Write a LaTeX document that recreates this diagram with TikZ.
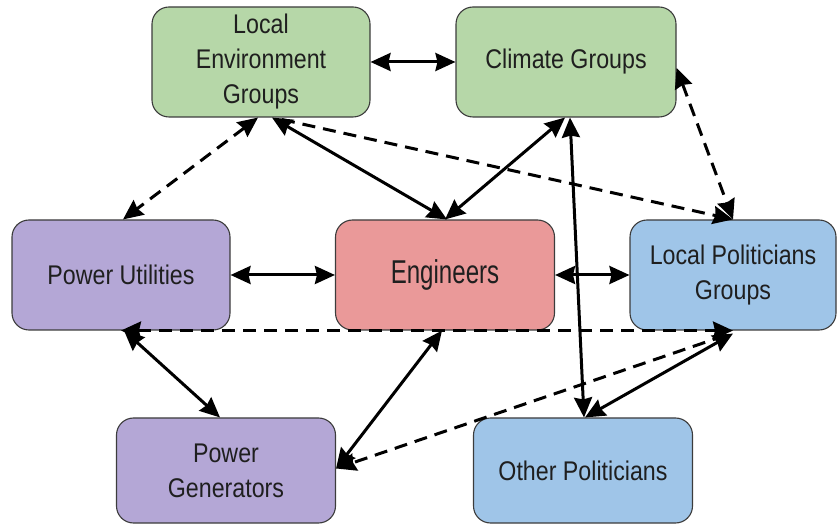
\documentclass[tikz,border=0pt]{standalone}
\usepackage{fontspec}
\setmainfont{Liberation Sans}
\newfontfamily\boxfont[FakeStretch=0.86]{Liberation Sans}
\newfontfamily\engfont[FakeStretch=0.73]{Liberation Sans}
\usetikzlibrary{arrows.meta}
\definecolor{grpfill}{HTML}{B6D7A8}
\definecolor{pwrfill}{HTML}{B4A7D6}
\definecolor{engfill}{HTML}{EA9999}
\definecolor{polfill}{HTML}{9FC5E8}
\definecolor{boxedge}{HTML}{3C3C3C}
\begin{document}
\begin{tikzpicture}[x=1pt,y=-1pt,
  actor/.style={draw=boxedge, line width=1.1pt, rounded corners=17pt,
    minimum width=218pt, minimum height=110pt, align=center, inner sep=0pt,
    font=\boxfont\fontsize{27}{35}\selectfont, text=black!88},
  tip/.tip={Stealth[length=20pt,width=18pt,inset=2pt]},
  link/.style={line width=3pt, draw=black, tip-tip},
  dlink/.style={link, dash pattern=on 13pt off 8pt},
  dlinkone/.style={line width=3pt, draw=black, dash pattern=on 13pt off 8pt, -tip}]
\useasboundingbox (0,0) rectangle (838,526);
% stakeholders
\node[actor, fill=grpfill] (leg) at (261,62) {Local\\Environment\\Groups};
\node[actor, fill=grpfill, minimum width=220pt] (cg) at (566,62) {Climate Groups};
\node[actor, fill=pwrfill] (pu) at (121,275) {Power Utilities};
\node[actor, fill=engfill, minimum width=219pt, font=\engfont\fontsize{33}{38}\selectfont] (eng) at (445,275) {Engineers};
\node[actor, fill=polfill, minimum width=206pt] (lpg) at (733,275) {Local Politicians\\Groups};
\node[actor, fill=pwrfill, minimum width=219pt, minimum height=105pt] (pg) at (226,470.5) {Power\\Generators};
\node[actor, fill=polfill, minimum width=219pt, minimum height=105pt] (op) at (583,470.5) {Other Politicians};
% relations
\draw[link] (leg.east) -- (cg.west);
\draw[dlink] ([xshift=-3pt]leg.south) -- ([xshift=2pt]pu.north);
\draw[link] ([xshift=11pt]leg.south) -- ([xshift=2pt]eng.north);
\draw[dlinkone] ([xshift=21pt,yshift=-2pt]leg.south) -- (lpg.north);
\draw[link] ([xshift=-1pt]cg.south) -- (eng.north);
\draw[link] ([xshift=4pt]cg.south) -- ([xshift=1pt]op.north);
\draw[dlink] ([yshift=-6pt]cg.east) -- (lpg.north);
\draw[link] (pu.east) -- (eng.west);
\draw[link] (eng.east) -- (lpg.west);
\draw[dlink] (pu.south) -- (lpg.south);
\draw[link] ([xshift=3pt]pu.south) -- ([xshift=-6pt]pg.north);
\draw[link] ([xshift=-3pt]eng.south) -- ([yshift=2pt]pg.east);
\draw[dlinkone] ([xshift=-8pt,yshift=-5pt]lpg.south) -- ([yshift=2pt]pg.east);
\draw[link] ([yshift=-3pt]lpg.south) -- ([xshift=2pt]op.north);
\end{tikzpicture}
\end{document}
